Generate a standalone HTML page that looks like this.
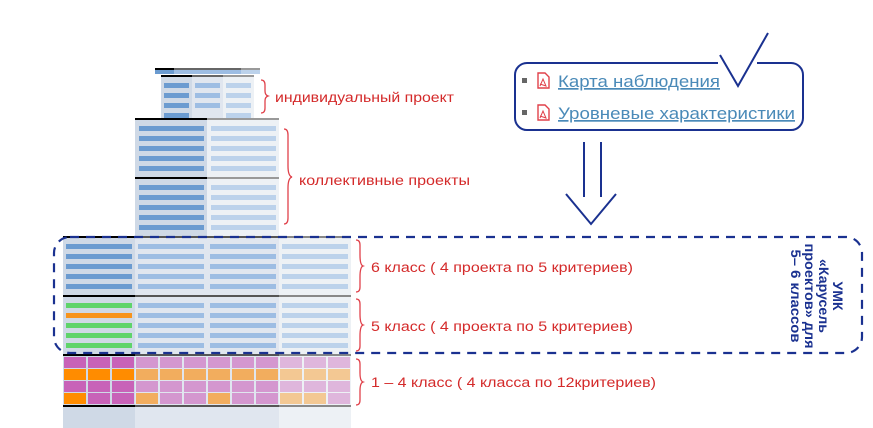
<!DOCTYPE html>
<html><head><meta charset="utf-8"><style>
html,body{margin:0;padding:0;background:#fff;width:873px;height:428px;overflow:hidden}
svg{display:block}
text{font-family:"Liberation Sans","DejaVu Sans",sans-serif}
</style></head><body>
<svg width="873" height="428" viewBox="0 0 873 428" xmlns="http://www.w3.org/2000/svg">
<!-- cap -->
<rect x="155" y="69" width="19" height="5" fill="#6b9bd0"/>
<rect x="174" y="69" width="67" height="5" fill="#9dbde3"/>
<rect x="241" y="69" width="19" height="5" fill="#bcd2eb"/>
<rect x="155" y="68" width="19" height="2" fill="#000"/>
<rect x="174" y="68" width="67" height="2" fill="#666"/>
<rect x="241" y="68" width="19" height="2" fill="#999"/>
<!-- individual -->
<rect x="161" y="75" width="31" height="43" fill="#cfd9e6"/>
<rect x="192" y="75" width="31" height="43" fill="#e0e6ef"/>
<rect x="223" y="75" width="31" height="43" fill="#edf1f5"/>
<rect x="161" y="75" width="31" height="2" fill="#000"/>
<rect x="192" y="75" width="31" height="2" fill="#666"/>
<rect x="223" y="75" width="31" height="2" fill="#999"/>
<g fill="#6b9bd0"><rect x="164" y="83" width="25" height="5"/><rect x="164" y="93" width="25" height="5"/><rect x="164" y="103" width="25" height="5"/><rect x="164" y="113" width="25" height="5"/></g>
<g fill="#9dbde3"><rect x="195" y="83" width="25" height="5"/><rect x="195" y="93" width="25" height="5"/><rect x="195" y="103" width="25" height="5"/></g>
<g fill="#bcd2eb"><rect x="226" y="83" width="25" height="5"/><rect x="226" y="93" width="25" height="5"/><rect x="226" y="103" width="25" height="5"/><rect x="226" y="113" width="25" height="5"/></g>
<!-- collective -->
<rect x="135" y="118" width="72" height="119" fill="#cfd9e6"/>
<rect x="207" y="118" width="72" height="119" fill="#edf1f5"/>
<rect x="135" y="118" width="72" height="2" fill="#000"/>
<rect x="207" y="118" width="72" height="2" fill="#999"/>
<rect x="135" y="177" width="72" height="2" fill="#000"/>
<rect x="207" y="177" width="72" height="2" fill="#999"/>
<g fill="#6b9bd0">
<rect x="139" y="126" width="65" height="5"/><rect x="139" y="136" width="65" height="5"/><rect x="139" y="146" width="65" height="5"/><rect x="139" y="156" width="65" height="5"/><rect x="139" y="166" width="65" height="5"/>
<rect x="139" y="185" width="65" height="5"/><rect x="139" y="195" width="65" height="5"/><rect x="139" y="205" width="65" height="5"/><rect x="139" y="215" width="65" height="5"/><rect x="139" y="225" width="65" height="5"/>
</g>
<g fill="#bcd2eb">
<rect x="211" y="126" width="65" height="5"/><rect x="211" y="136" width="65" height="5"/><rect x="211" y="146" width="65" height="5"/><rect x="211" y="156" width="65" height="5"/><rect x="211" y="166" width="65" height="5"/>
<rect x="211" y="185" width="65" height="5"/><rect x="211" y="195" width="65" height="5"/><rect x="211" y="205" width="65" height="5"/><rect x="211" y="215" width="65" height="5"/><rect x="211" y="225" width="65" height="5"/>
</g>
<!-- lower building -->
<rect x="63" y="237" width="72" height="191" fill="#cfd9e6"/>
<rect x="135" y="237" width="144" height="191" fill="#e0e6ef"/>
<rect x="279" y="237" width="72" height="191" fill="#edf1f5"/>
<g>
<rect x="63" y="236" width="72" height="2" fill="#000"/><rect x="135" y="236" width="144" height="2" fill="#555"/><rect x="279" y="236" width="72" height="2" fill="#888"/>
<rect x="63" y="295" width="72" height="2" fill="#000"/><rect x="135" y="295" width="144" height="2" fill="#555"/><rect x="279" y="295" width="72" height="2" fill="#888"/>
<rect x="63" y="354" width="72" height="2" fill="#000"/><rect x="135" y="354" width="144" height="2" fill="#555"/><rect x="279" y="354" width="72" height="2" fill="#888"/>
<rect x="63" y="405" width="72" height="2" fill="#000"/><rect x="135" y="405" width="144" height="2" fill="#555"/><rect x="279" y="405" width="72" height="2" fill="#888"/>
</g>
<!-- 6 class bars -->
<g fill="#6b9bd0"><rect x="66" y="244" width="66" height="5"/><rect x="66" y="254" width="66" height="5"/><rect x="66" y="264" width="66" height="5"/><rect x="66" y="274" width="66" height="5"/><rect x="66" y="284" width="66" height="5"/></g>
<g fill="#9dbde3">
<rect x="138" y="244" width="66" height="5"/><rect x="138" y="254" width="66" height="5"/><rect x="138" y="264" width="66" height="5"/><rect x="138" y="274" width="66" height="5"/><rect x="138" y="284" width="66" height="5"/>
<rect x="210" y="244" width="66" height="5"/><rect x="210" y="254" width="66" height="5"/><rect x="210" y="264" width="66" height="5"/><rect x="210" y="274" width="66" height="5"/><rect x="210" y="284" width="66" height="5"/>
<rect x="138" y="303" width="66" height="5"/><rect x="138" y="313" width="66" height="5"/><rect x="138" y="323" width="66" height="5"/><rect x="138" y="333" width="66" height="5"/><rect x="138" y="343" width="66" height="5"/>
<rect x="210" y="303" width="66" height="5"/><rect x="210" y="313" width="66" height="5"/><rect x="210" y="323" width="66" height="5"/><rect x="210" y="333" width="66" height="5"/><rect x="210" y="343" width="66" height="5"/>
</g>
<g fill="#bcd2eb">
<rect x="282" y="244" width="66" height="5"/><rect x="282" y="254" width="66" height="5"/><rect x="282" y="264" width="66" height="5"/><rect x="282" y="274" width="66" height="5"/><rect x="282" y="284" width="66" height="5"/>
<rect x="282" y="303" width="66" height="5"/><rect x="282" y="313" width="66" height="5"/><rect x="282" y="323" width="66" height="5"/><rect x="282" y="333" width="66" height="5"/><rect x="282" y="343" width="66" height="5"/>
</g>
<rect x="66" y="303" width="66" height="5" fill="#5fd46a"/>
<rect x="66" y="313" width="66" height="5" fill="#f7941d"/>
<rect x="66" y="323" width="66" height="5" fill="#5fd46a"/>
<rect x="66" y="333" width="66" height="5" fill="#5fd46a"/>
<rect x="66" y="343" width="66" height="5" fill="#5fd46a"/>
<!-- 1-4 grid -->
<g>
<rect x="64" y="357" width="22" height="11" fill="#c862b8"/><rect x="88" y="357" width="22" height="11" fill="#c862b8"/><rect x="112" y="357" width="22" height="11" fill="#c862b8"/>
<rect x="136" y="357" width="22" height="11" fill="#d497cf"/><rect x="160" y="357" width="22" height="11" fill="#d497cf"/><rect x="184" y="357" width="22" height="11" fill="#d497cf"/><rect x="208" y="357" width="22" height="11" fill="#d497cf"/><rect x="232" y="357" width="22" height="11" fill="#d497cf"/><rect x="256" y="357" width="22" height="11" fill="#d497cf"/>
<rect x="280" y="357" width="22" height="11" fill="#dfb6dc"/><rect x="304" y="357" width="22" height="11" fill="#dfb6dc"/><rect x="328" y="357" width="22" height="11" fill="#dfb6dc"/>
<rect x="64" y="369" width="22" height="11" fill="#ff8c00"/><rect x="88" y="369" width="22" height="11" fill="#ff8c00"/><rect x="112" y="369" width="22" height="11" fill="#ff8c00"/>
<rect x="136" y="369" width="22" height="11" fill="#f2ad5e"/><rect x="160" y="369" width="22" height="11" fill="#f2ad5e"/><rect x="184" y="369" width="22" height="11" fill="#f2ad5e"/><rect x="208" y="369" width="22" height="11" fill="#f2ad5e"/><rect x="232" y="369" width="22" height="11" fill="#f2ad5e"/><rect x="256" y="369" width="22" height="11" fill="#f2ad5e"/>
<rect x="280" y="369" width="22" height="11" fill="#f3c893"/><rect x="304" y="369" width="22" height="11" fill="#f3c893"/><rect x="328" y="369" width="22" height="11" fill="#f3c893"/>
<rect x="64" y="381" width="22" height="11" fill="#c862b8"/><rect x="88" y="381" width="22" height="11" fill="#c862b8"/><rect x="112" y="381" width="22" height="11" fill="#c862b8"/>
<rect x="136" y="381" width="22" height="11" fill="#d497cf"/><rect x="160" y="381" width="22" height="11" fill="#d497cf"/><rect x="184" y="381" width="22" height="11" fill="#d497cf"/><rect x="208" y="381" width="22" height="11" fill="#d497cf"/><rect x="232" y="381" width="22" height="11" fill="#d497cf"/><rect x="256" y="381" width="22" height="11" fill="#d497cf"/>
<rect x="280" y="381" width="22" height="11" fill="#dfb6dc"/><rect x="304" y="381" width="22" height="11" fill="#dfb6dc"/><rect x="328" y="381" width="22" height="11" fill="#dfb6dc"/>
<rect x="64" y="393" width="22" height="11" fill="#ff8c00"/><rect x="88" y="393" width="22" height="11" fill="#c862b8"/><rect x="112" y="393" width="22" height="11" fill="#c862b8"/>
<rect x="136" y="393" width="22" height="11" fill="#f2ad5e"/><rect x="160" y="393" width="22" height="11" fill="#d497cf"/><rect x="184" y="393" width="22" height="11" fill="#d497cf"/><rect x="208" y="393" width="22" height="11" fill="#f2ad5e"/><rect x="232" y="393" width="22" height="11" fill="#d497cf"/><rect x="256" y="393" width="22" height="11" fill="#d497cf"/>
<rect x="280" y="393" width="22" height="11" fill="#f3c893"/><rect x="304" y="393" width="22" height="11" fill="#f3c893"/><rect x="328" y="393" width="22" height="11" fill="#dfb6dc"/>
</g>
<!-- dashed box -->
<rect x="54" y="237" width="808" height="116" rx="16" fill="none" stroke="#1a3190" stroke-width="2.2" stroke-dasharray="9,7"/>
<!-- braces -->
<g fill="none" stroke="#e0414a" stroke-width="1.3">
<path d="M261 80 q4 0 4 5 v6 q0 4 3 5 q-3 1 -3 5 v7 q0 5 -4 5"/>
<path d="M284 129 q4 0 4 6 v31 q0 10 4 11 q-4 1 -4 11 v30 q0 6 -4 6"/>
<path d="M356 240 q4 0 4 5 v10 q0 10 3 11 q-3 1 -3 11 v10 q0 5 -4 5"/>
<path d="M356 299 q4 0 4 5 v10 q0 10 3 11 q-3 1 -3 11 v10 q0 5 -4 5"/>
<path d="M356 359 q4 0 4 5 v9 q0 8 3 9 q-3 1 -3 9 v9 q0 5 -4 5"/>
</g>
<g fill="#d42a2a" font-size="13.5">
<text x="275" y="102" textLength="179" lengthAdjust="spacingAndGlyphs">индивидуальный проект</text>
<text x="299" y="185" textLength="171" lengthAdjust="spacingAndGlyphs">коллективные проекты</text>
<text x="371" y="272" textLength="262" lengthAdjust="spacingAndGlyphs">6 класс ( 4 проекта по 5 критериев)</text>
<text x="371" y="331" textLength="262" lengthAdjust="spacingAndGlyphs">5 класс ( 4 проекта по 5 критериев)</text>
<text x="371" y="387" textLength="285" lengthAdjust="spacingAndGlyphs">1 – 4 класс ( 4 класса по 12критериев)</text>
</g>
<!-- vertical label -->
<g fill="#1a3190" font-size="14" font-weight="bold" transform="translate(810,296) rotate(90)" text-anchor="middle">
<text x="0" y="-23">УМК</text>
<text x="0" y="-9" textLength="74" lengthAdjust="spacingAndGlyphs">«Карусель</text>
<text x="0" y="5" textLength="105" lengthAdjust="spacingAndGlyphs">проектов» для</text>
<text x="0" y="19" textLength="93" lengthAdjust="spacingAndGlyphs">5– 6 классов</text>
</g>
<!-- top box -->
<path d="M718 63 H527 a12 12 0 0 0 -12 12 v43 a12 12 0 0 0 12 12 h264 a12 12 0 0 0 12 -12 v-43 a12 12 0 0 0 -12 -12 H757" fill="none" stroke="#1a3190" stroke-width="2"/>
<path d="M720 55 L738 86 L768 33" fill="none" stroke="#1a3190" stroke-width="2"/>
<rect x="522" y="78" width="5" height="5" fill="#666"/>
<rect x="522" y="110" width="5" height="5" fill="#666"/>
<g fill="#fff" stroke="#e0414a" stroke-width="1.4">
<path d="M538 73 h7 l4 4 v11 h-11 z"/>
<path d="M538 105 h7 l4 4 v11 h-11 z"/>
</g>
<g fill="none" stroke="#e0414a" stroke-width="1"><path d="M540 86 l3 -7 l3 7 l-6 -2"/><path d="M540 118 l3 -7 l3 7 l-6 -2"/></g>
<g fill="#4a8ab8" font-size="17" text-decoration="underline">
<text x="558" y="87" textLength="162" lengthAdjust="spacingAndGlyphs">Карта наблюдения</text>
<text x="558" y="119" textLength="237" lengthAdjust="spacingAndGlyphs">Уровневые характеристики</text>
</g>
<!-- arrow -->
<g fill="none" stroke="#1a3190" stroke-width="2">
<path d="M584 142 V197"/><path d="M601 142 V197"/>
<path d="M566 194 L591 224 L616 194"/>
</g>
</svg>
</body></html>
